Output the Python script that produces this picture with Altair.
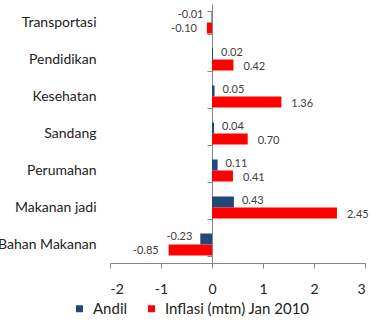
import altair as alt
import pandas as pd

categories = ["Transportasi", "Pendidikan", "Kesehatan", "Sandang",
              "Perumahan", "Makanan jadi", "Bahan Makanan"]
andil = [-0.01, 0.02, 0.05, 0.04, 0.11, 0.43, -0.23]
inflasi = [-0.10, 0.42, 1.36, 0.70, 0.41, 2.45, -0.85]
series = ["Andil", "Inflasi (mtm) Jan 2010"]
colors = ["#1F497D", "#FF0000"]
x_ticks = [-2, -1, 0, 1, 2, 3]

rows = []
for c, a, i in zip(categories, andil, inflasi):
    rows.append({"cat": c, "series": series[0], "value": a, "label": f"{a:.2f}"})
    rows.append({"cat": c, "series": series[1], "value": i, "label": f"{i:.2f}"})
df = pd.DataFrame(rows)

FONT = "Lato"

x_enc = alt.X("value:Q", scale=alt.Scale(domain=[-2, 3], nice=False),
              axis=alt.Axis(title=None, values=x_ticks, grid=False, tickSize=5,
                            domainColor="#868686", tickColor="#868686",
                            labelExpr="'' + datum.value",
                            labelFont=FONT, labelFontSize=14, labelColor="#222222",
                            labelPadding=14))
y_enc = alt.Y("cat:N", sort=categories,
              scale=alt.Scale(paddingInner=0.405, paddingOuter=0.2027),
              axis=alt.Axis(title=None, offset=-102, tickBand="extent", tickSize=5,
                            grid=False, domainColor="#868686", tickColor="#868686",
                            labelPadding=111, labelFont=FONT, labelFontSize=14,
                            labelColor="#222222"))
yoff = alt.YOffset("series:N", sort=series)

base = alt.Chart(df)

bars = base.mark_bar().encode(
    x=x_enc, y=y_enc, yOffset=yoff,
    color=alt.Color("series:N", sort=series,
                    scale=alt.Scale(domain=series, range=colors),
                    legend=alt.Legend(title=None, orient="none", direction="horizontal",
                                      legendX=-38, legendY=297, symbolType="square",
                                      symbolSize=49, symbolStrokeWidth=0,
                                      labelFont=FONT, labelFontSize=15,
                                      labelColor="#222222", labelOffset=6,
                                      columnPadding=16, padding=0)),
)

def label_layer(sname, positive, dx, dy):
    cond = "datum.value >= 0" if positive else "datum.value < 0"
    return base.transform_filter(
        f"datum.series == '{sname}' && {cond}"
    ).mark_text(align="left" if positive else "right", dx=dx, dy=dy,
                font=FONT, fontSize=11, color="#404040").encode(
        x="value:Q", y=alt.Y("cat:N", sort=categories), yOffset=yoff, text="label:N")

layers = [bars,
          label_layer(series[0], True, 8, -1),
          label_layer(series[0], False, -8, -2),
          label_layer(series[1], True, 10, 2),
          label_layer(series[1], False, -10, 1)]

chart = alt.layer(*layers).properties(
    width=255, height=259,
    autosize=alt.AutoSizeParams(type="none"),
    padding={"left": 110, "top": 4, "right": 8, "bottom": 59},
).configure_view(stroke=None)

chart.save("out.html", embed_options={"renderer": "svg", "actions": False})
